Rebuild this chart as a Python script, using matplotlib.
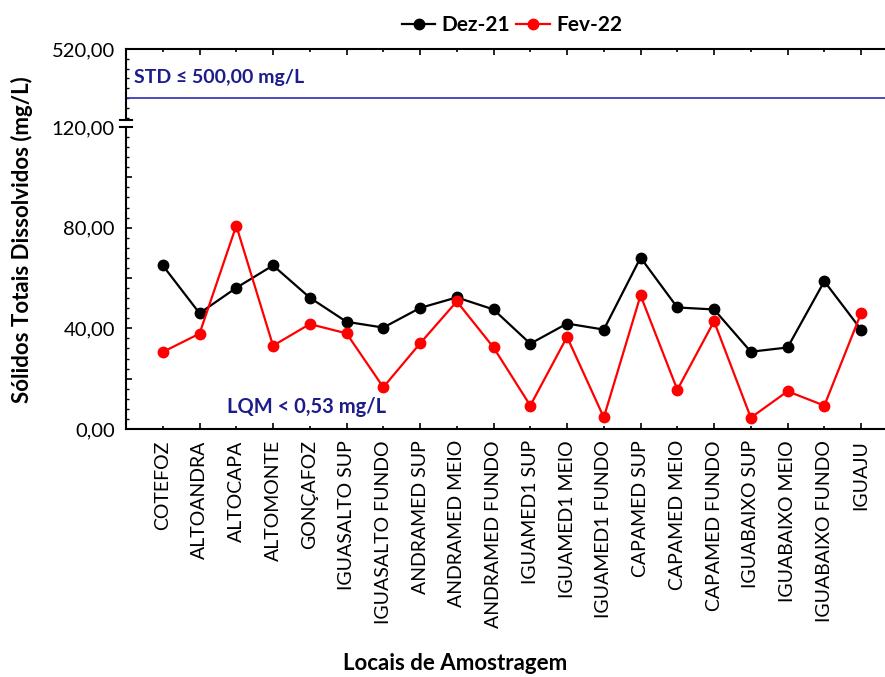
import matplotlib
matplotlib.use("Agg")
import matplotlib.pyplot as plt
from matplotlib.ticker import FixedLocator, FuncFormatter, MultipleLocator
from matplotlib.lines import Line2D

plt.rcParams['font.family'] = ['Lato', 'DejaVu Sans']

# sampling sites and dissolved solids (mg/L) for each campaign
locais = ['COTEFOZ', 'ALTOANDRA', 'ALTOCAPA', 'ALTOMONTE', 'GONÇAFOZ',
          'IGUASALTO SUP', 'IGUASALTO FUNDO', 'ANDRAMED SUP', 'ANDRAMED MEIO',
          'ANDRAMED FUNDO', 'IGUAMED1 SUP', 'IGUAMED1 MEIO', 'IGUAMED1 FUNDO',
          'CAPAMED SUP', 'CAPAMED MEIO', 'CAPAMED FUNDO', 'IGUABAIXO SUP',
          'IGUABAIXO MEIO', 'IGUABAIXO FUNDO', 'IGUAJU']
dez21 = [65.0, 46.0, 56.1, 65.0, 52.2, 42.6, 40.3, 48.1, 52.3, 47.5,
         33.9, 41.9, 39.5, 68.1, 48.3, 47.5, 30.7, 32.4, 58.7, 39.5]
fev22 = [30.6, 37.9, 80.8, 33.1, 41.7, 38.0, 16.6, 34.0, 50.7, 32.4,
         9.3, 36.6, 4.6, 53.1, 15.6, 42.8, 4.5, 15.0, 9.3, 46.0]
std_limite = 500.0

navy = '#1c1c8a'
x = list(range(len(locais)))

fig = plt.figure(figsize=(8.85, 6.77), dpi=100)
ax = fig.add_axes([0.1424, 0.3663, 0.8721, 0.4461])
ax_top = fig.add_axes([0.1424, 0.8227, 0.8721, 0.1049])

fmt = FuncFormatter(lambda v, p: f'{v:.2f}'.replace('.', ','))

# lower part of the broken axis
ax.plot(x, dez21, color='black', lw=1.6, marker='o', ms=7.5, zorder=3)
ax.plot(x, fev22, color='#ff0000', lw=1.6, marker='o', ms=7.5, zorder=3)
ax.set_xlim(-1, 20)
ax.set_ylim(0, 120)
ax.spines['top'].set_visible(False)
ax.spines['right'].set_visible(False)
ax.spines['left'].set_linewidth(1.5)
ax.spines['bottom'].set_linewidth(1.5)
ax.yaxis.set_major_locator(MultipleLocator(20))
ax.yaxis.set_minor_locator(MultipleLocator(4))
ax.yaxis.set_major_formatter(FuncFormatter(
    lambda v, p: fmt(v, p) if round(v) % 40 == 0 else ''))
ax.tick_params(axis='y', which='major', direction='in', length=4, width=1.2,
               labelsize=14.5, pad=8)
ax.tick_params(axis='y', which='minor', direction='in', length=2, width=1)
ax.xaxis.set_major_locator(FixedLocator(x))
ax.set_xticklabels(locais, rotation=90, fontsize=14)
ax.tick_params(axis='x', direction='in', width=1.2, pad=8)
for i, t in enumerate(ax.xaxis.get_major_ticks()):
    t.tick1line.set_markersize(4 if i % 2 else 2)
ax.text(1.75, 8.7, 'LQM < 0,53 mg/L', color=navy, fontsize=14.5,
        fontweight='bold', va='center', ha='left')

# upper part holding the standard limit
ax_top.axhline(std_limite, color='#3c3cbf', lw=1.3)
ax_top.set_xlim(-1, 20)
ax_top.set_ylim(491, 520)
ax_top.spines['bottom'].set_visible(False)
ax_top.spines['right'].set_visible(False)
ax_top.spines['left'].set_linewidth(1.5)
ax_top.spines['top'].set_linewidth(1.5)
ax_top.yaxis.set_major_locator(FixedLocator([520]))
ax_top.yaxis.set_minor_locator(FixedLocator(list(range(492, 520, 4))))
ax_top.yaxis.set_major_formatter(fmt)
ax_top.tick_params(axis='y', which='major', direction='in', length=4, width=1.2,
                   labelsize=14.5, pad=8)
ax_top.tick_params(axis='y', which='minor', direction='in', length=2, width=1)
ax_top.xaxis.set_major_locator(FixedLocator(x))
ax_top.tick_params(axis='x', direction='in', width=1.2, bottom=False, top=True,
                   labelbottom=False)
for i, t in enumerate(ax_top.xaxis.get_major_ticks()):
    t.tick2line.set_markersize(4 if i % 2 else 2)
ax_top.text(-0.78, 508.2, 'STD ≤ 500,00 mg/L', color=navy, fontsize=14,
            fontweight='bold', va='center', ha='left')

# break marks on the y axis
for a, yy in ((ax, 1), (ax_top, 0)):
    a.plot([-0.008, 0.008], [yy, yy], transform=a.transAxes, color='black',
           lw=1.5, clip_on=False)

fig.text(22 / 885, 1 - 240 / 677, 'Sólidos Totais Dissolvidos (mg/L)',
         rotation=90, ha='center', va='center', fontsize=16, fontweight='bold')
fig.text(455 / 885, 1 - 664 / 677, 'Locais de Amostragem', ha='center',
         va='center', fontsize=16, fontweight='bold')

handles = [Line2D([], [], color='black', lw=1.6, marker='o', ms=7.5),
           Line2D([], [], color='#ff0000', lw=1.6, marker='o', ms=7.5)]
fig.legend(handles, ['Dez-21', 'Fev-22'], loc='center', ncol=2,
           bbox_to_anchor=(512 / 885, 1 - 25 / 677), frameon=False,
           prop={'size': 15, 'weight': 'bold'}, handlelength=1.6,
           handletextpad=0.3, columnspacing=0.3)

fig.savefig('out.png', dpi=100)
